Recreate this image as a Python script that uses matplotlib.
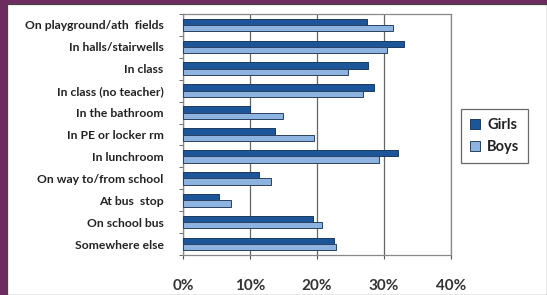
import matplotlib
matplotlib.use("Agg")
import matplotlib.pyplot as plt
import numpy as np
from matplotlib.patches import Rectangle
from matplotlib.ticker import MultipleLocator, FuncFormatter

categories = ["On playground/ath  fields", "In halls/stairwells", "In class",
              "In class (no teacher)", "In the bathroom", "In PE or locker rm",
              "In lunchroom", "On way to/from school", "At bus  stop",
              "On school bus", "Somewhere else"]
girls = [27.5, 33.0, 27.6, 28.5, 10.0, 13.8, 32.1, 11.3, 5.3, 19.4, 22.5]
boys = [31.3, 30.4, 24.7, 26.8, 14.9, 19.5, 29.2, 13.1, 7.2, 20.7, 22.9]
series_names = ["Girls", "Boys"]

plt.rcParams['font.family'] = ['Lato', 'DejaVu Sans']

W, H = 547, 295
fig = plt.figure(figsize=(W/100, H/100), dpi=100)
fig.patch.set_facecolor("#6d2c60")
fig.patches.append(Rectangle((7/W, 0), 1 - 7/W, 1 - 4/H, transform=fig.transFigure,
                             facecolor="white", edgecolor="#444444", linewidth=0.9, zorder=-10))

ax = fig.add_axes([183/W, 1 - 255/H, (451-183)/W, (255-14)/H])
ax.set_zorder(5)
y = np.arange(len(categories))
h = 0.29
ax.barh(y - h/2, girls, height=h, color="#1c5698", edgecolor="#1a3a60", linewidth=0.7,
        label=series_names[0], zorder=3)
ax.barh(y + h/2, boys, height=h, color="#8db4e0", edgecolor="#2a4160", linewidth=0.7,
        label=series_names[1], zorder=3)
ax.set_ylim(len(categories) - 0.5, -0.5)
ax.set_xlim(0, 40)
ax.xaxis.set_major_locator(MultipleLocator(10))
ax.xaxis.set_major_formatter(FuncFormatter(lambda v, p: f"{v:.0f}%"))
ax.grid(axis="x", color="#666666", linewidth=0.9, zorder=0)
ax.set_yticks(y)
ax.set_yticklabels(categories, fontsize=8.7, fontweight="bold", color="#222222")
ax.set_yticks(np.arange(-0.5, len(categories)), minor=True)
ax.tick_params(axis="y", which="major", length=0, pad=14)
ax.tick_params(axis="y", which="minor", length=3, color="#555555")
ax.tick_params(axis="x", length=3, color="#555555", labelsize=11, pad=14)
for lab in ax.get_xticklabels():
    lab.set_fontweight("bold")
    lab.set_color("#333333")
for s in ax.spines.values():
    s.set_color("#888888")
    s.set_linewidth(0.9)
ax.set_facecolor("white")

leg = fig.legend(loc="upper left", bbox_to_anchor=(461/W, 1 - 109/H), frameon=True,
                 prop={"size": 10.5, "weight": "bold"}, handlelength=0.7, handleheight=0.7,
                 handletextpad=0.5, labelspacing=0.6, borderpad=0.6, borderaxespad=0,
                 fancybox=False)
leg.get_frame().set_edgecolor("#444444")
leg.get_frame().set_linewidth(0.9)
for t in leg.get_texts():
    t.set_color("#222222")

fig.savefig("out.png", dpi=100, facecolor=fig.get_facecolor())
